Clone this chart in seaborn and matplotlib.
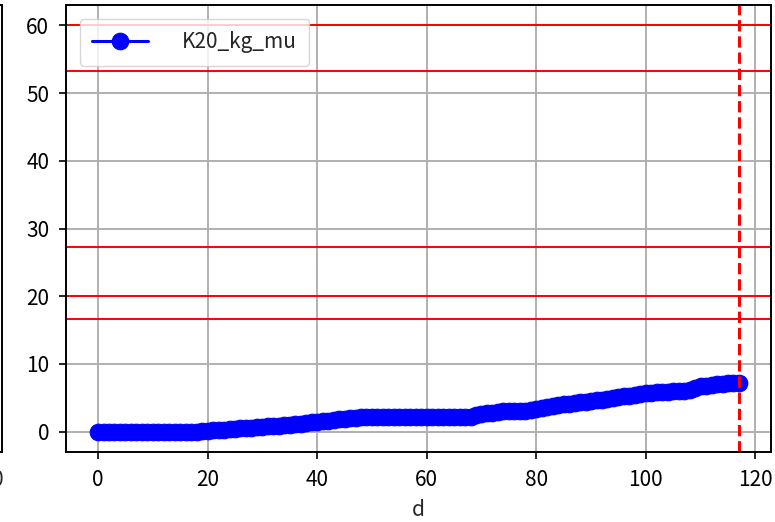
import matplotlib
matplotlib.use("Agg")
import matplotlib.pyplot as plt
import pandas as pd
import seaborn as sns

# 每日累计 K2O 用量（kg/亩）
days = list(range(118))
k20_kg_mu = [
    0.0, 0.0, 0.0, 0.0, 0.0, 0.0, 0.0, 0.0, 0.0, 0.0,
    0.0, 0.0, 0.0, 0.0, 0.0, 0.0, 0.0, 0.0, 0.0,
    0.05, 0.1, 0.2, 0.25, 0.3, 0.4, 0.45, 0.5, 0.55, 0.6, 0.65,
    0.75, 0.8, 0.85, 0.9, 0.95, 1.0, 1.1, 1.2, 1.3, 1.4, 1.5,
    1.6, 1.65, 1.75, 1.8, 1.9, 1.95, 2.0, 2.1, 2.15, 2.2,
    2.2, 2.2, 2.2, 2.2, 2.2, 2.2, 2.2, 2.2, 2.2,
    2.2, 2.2, 2.2, 2.2, 2.2, 2.2, 2.2, 2.2, 2.2,
    2.4, 2.55, 2.7, 2.8, 2.9, 3.0,
    3.0, 3.05, 3.1, 3.1, 3.15,
    3.3, 3.5, 3.7, 3.85, 3.95, 4.05, 4.15,
    4.25, 4.35, 4.45, 4.55, 4.65, 4.75, 4.85, 4.95, 5.1, 5.2, 5.3, 5.45, 5.55, 5.7,
    5.75, 5.8, 5.85, 5.9, 5.95, 6.0, 6.05, 6.2,
    6.45, 6.7, 6.8, 6.9, 7.0, 7.1, 7.15, 7.2, 7.2,
]
thresholds = [60, 53.3, 27.3, 20, 16.7]
current_day = 117

sns.set_theme(style="ticks")
plt.rcParams["font.family"] = ["Noto Sans CJK JP", "DejaVu Sans"]
plt.rcParams["axes.edgecolor"] = "black"
plt.rcParams["axes.linewidth"] = 1.4

df = pd.DataFrame({"d": days, "K20_kg_mu": k20_kg_mu})

fig = plt.figure(figsize=(7.75, 5.22), dpi=100)
ax_w = 705 / 775
ax_b = 70 / 522
ax_h = 447 / 522
fs = 15

# 左侧相邻子图（只露出右边缘）
ax0 = fig.add_axes([2 / 775 - ax_w, ax_b, ax_w, ax_h])
ax0.set_xlim(-5.85, 122.85)
ax0.set_xticks([120])
ax0.set_yticks([])
ax0.tick_params(axis="x", labelsize=fs, length=5, width=1.2, pad=7)

ax = fig.add_axes([66 / 775, ax_b, ax_w, ax_h])
sns.lineplot(data=df, x="d", y="K20_kg_mu", ax=ax, color="blue",
             marker="o", markersize=12, markeredgecolor="blue",
             linewidth=2.2, label="K20_kg_mu")

for t in thresholds:
    ax.axhline(t, color="red", linewidth=1.4)
ax.axvline(current_day, color="red", linestyle="--", linewidth=2.2)

ax.grid(True, color="#b0b0b0", linewidth=1.4)
ax.set_axisbelow(True)
ax.set_xticks([0, 20, 40, 60, 80, 100, 120])
ax.set_yticks([0, 10, 20, 30, 40, 50, 60])
ax.tick_params(labelsize=fs, length=5, width=1.2, pad=7, colors="black")
ax.set_xlabel("d", fontsize=fs, labelpad=6)
ax.set_ylabel("")
ax.legend(loc="upper left", fontsize=fs, handletextpad=1.6, handlelength=2.7,
          borderaxespad=0.65, borderpad=0.6)

fig.savefig("out.png", dpi=100)
